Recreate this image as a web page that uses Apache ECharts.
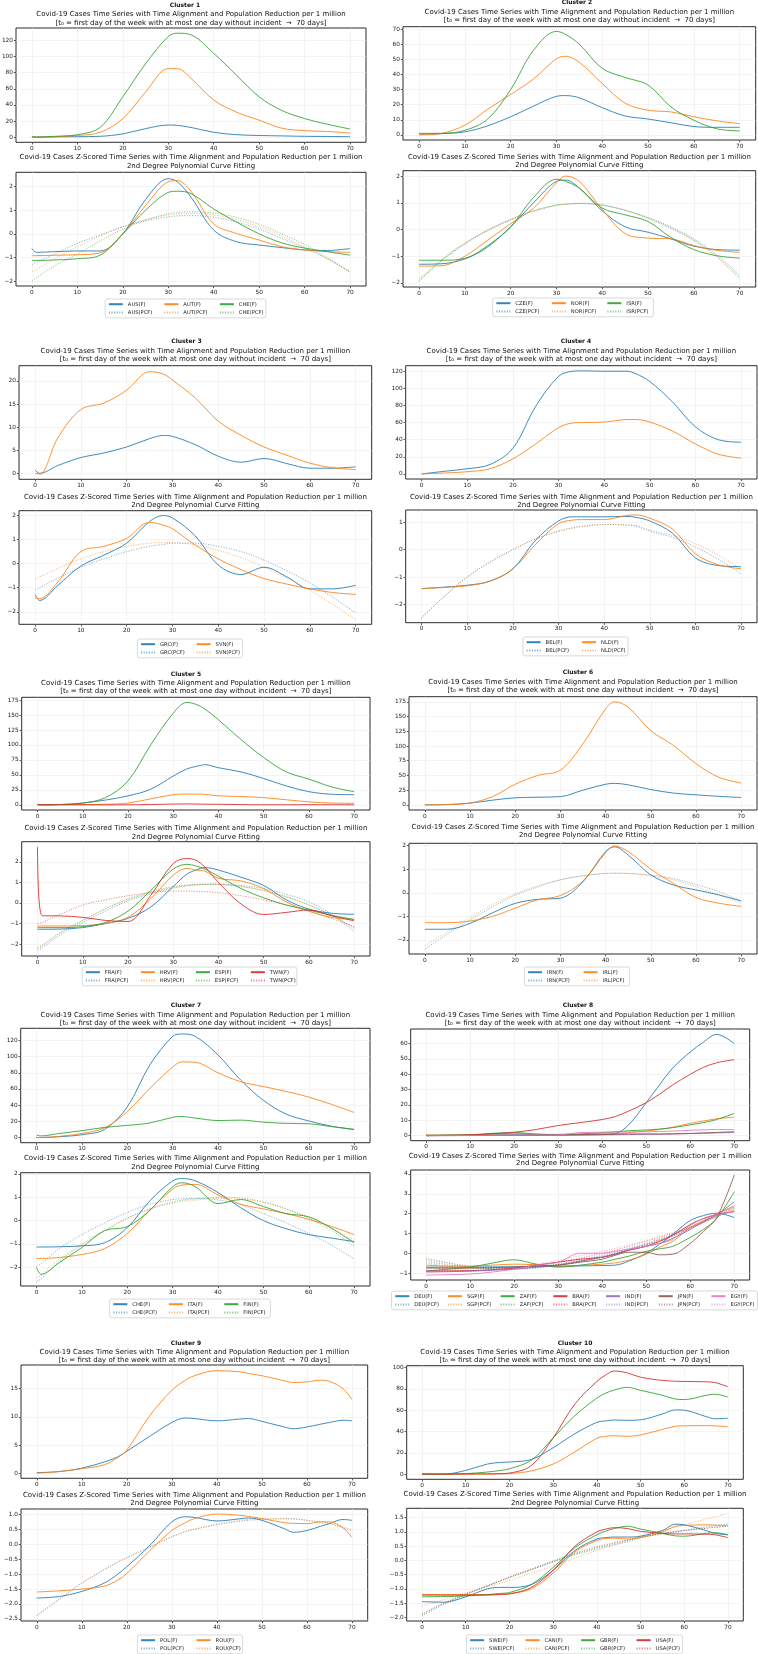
<!DOCTYPE html>
<html><head><meta charset="utf-8">
<script src="https://cdn.jsdelivr.net/npm/echarts@6/dist/echarts.min.js"></script>
<style>
html,body{margin:0;padding:0;background:#fff;width:758px;height:1654px;overflow:hidden}
.c{position:absolute;left:0;top:0;width:758px;height:1654px}
</style>
</head><body>
<script>
// ---------- shared ticks ----------
const X_TICKS = [0,10,20,30,40,50,60,70];
const TAB10 = ['#1f77b4','#ff7f0e','#2ca02c','#d62728','#9467bd','#8c564b','#e377c2'];

// ---------- Cluster 1 ----------
const c1Days = [0,1,5,10,15,20,25,30,32,35,40,45,50,55,60,65,70];
const c1Countries = ['AUS','AUT','CHE'];
const c1AUS = [1.0,0.0,0.3,0.5,1.0,4.0,10.5,15.0,14.6,12.0,6.0,3.0,2.0,1.5,1.0,0.8,0.5];
const c1AUT = [0,0,0.5,2,6,23,56,85,85,73,46,31,21,11,8,7,5];
const c1CHE = [0,0,1,3,12,50,91,125,129,127,104,77,50,33,23,16,10];
const c1AUSz = [-0.62,-0.78,-0.75,-0.72,-0.72,0.0,1.45,2.33,2.2,1.55,0.16,-0.33,-0.47,-0.58,-0.68,-0.7,-0.62];
const c1AUTz = [-0.92,-0.92,-0.9,-0.88,-0.8,0.0,1.2,2.2,2.25,1.8,0.42,0.02,-0.26,-0.54,-0.68,-0.75,-0.78];
const c1CHEz = [-1.12,-1.12,-1.1,-1.05,-0.9,0.0,1.0,1.75,1.8,1.7,1.05,0.5,0.0,-0.38,-0.6,-0.75,-0.9];
const c1AUSp = [-1.3,-1.2,-0.85,-0.4,-0.05,0.3,0.55,0.72,0.76,0.77,0.7,0.5,0.2,-0.2,-0.6,-1.05,-1.6];
const c1AUTp = [-1.6,-1.5,-1.05,-0.55,-0.1,0.3,0.6,0.8,0.84,0.86,0.8,0.6,0.3,-0.1,-0.55,-1.05,-1.62];
const c1CHEp = [-2.0,-1.85,-1.35,-0.85,-0.3,0.2,0.58,0.85,0.9,0.93,0.88,0.7,0.4,0.0,-0.45,-1.0,-1.62];
const c1TopTicks = [0,20,40,60,80,100,120];
const c1BotTicks = [-2,-1,0,1,2];

// ---------- Cluster 2 ----------
const c2Days = [0,5,10,15,20,25,30,32,35,40,45,50,55,60,65,70];
const c2Countries = ['CZE','NOR','ISR'];
const c2CZE = [0.5,0.8,2,6,12,19,25.5,26,24.5,18,12.5,10.5,8,5.5,5,5];
const c2NOR = [0,1,6.4,17,26.7,37,50.4,52,48,34,21,16.3,15.2,12,9.3,7.5];
const c2ISR = [1,1,3,10.5,30,56,68.5,66.5,60,44,38,33,18.5,9.7,4,2.6];
const c2CZEz = [-1.3,-1.28,-1.1,-0.65,0.1,1.0,1.8,1.85,1.55,0.7,0.1,-0.1,-0.35,-0.62,-0.75,-0.77];
const c2NORz = [-1.37,-1.35,-1.0,-0.4,0.22,0.8,1.75,2.0,1.8,0.75,-0.15,-0.32,-0.35,-0.6,-0.78,-0.85];
const c2ISRz = [-1.15,-1.15,-1.08,-0.6,0.1,1.2,1.88,1.8,1.55,0.8,0.55,0.3,-0.3,-0.75,-0.98,-1.07];
const c2CZEp = [-1.9,-1.15,-0.55,-0.05,0.35,0.68,0.9,0.94,0.97,0.9,0.72,0.45,0.1,-0.35,-0.95,-1.7];
const c2NORp = [-1.85,-1.1,-0.5,-0.02,0.38,0.7,0.92,0.95,0.98,0.92,0.72,0.42,0.05,-0.42,-1.05,-1.85];
const c2ISRp = [-1.95,-1.15,-0.52,-0.02,0.38,0.7,0.92,0.95,0.98,0.92,0.72,0.42,0.05,-0.4,-1.0,-1.8];
const c2TopTicks = [0,10,20,30,40,50,60,70];
const c2BotTicks = [-2,-1,0,1,2];

// ---------- Cluster 3 ----------
const c3Days = [0,1,5,10,15,20,25,28,30,35,40,45,50,55,60,65,70];
const c3Countries = ['GRC','SVN'];
const c3GRC = [0.7,0,1.7,3.4,4.4,5.7,7.5,8.2,8.0,6.2,3.7,2.4,3.2,2.1,1.1,1.1,1.4];
const c3SVN = [0,-0.2,7.7,13.8,15.2,18,22,21.5,20.2,16.3,11.3,8.2,5.7,3.9,2.2,1.2,0.8];
const c3GRCz = [-1.28,-1.53,-0.9,-0.1,0.35,0.85,1.75,2.0,1.9,1.15,-0.06,-0.45,-0.15,-0.55,-1.05,-1.05,-0.9];
const c3SVNz = [-1.42,-1.45,-0.76,0.5,0.72,1.05,1.72,1.6,1.45,0.77,0.2,-0.25,-0.62,-0.85,-1.05,-1.2,-1.28];
const c3GRCp = [-1.1,-1.0,-0.6,-0.15,0.2,0.5,0.72,0.8,0.85,0.85,0.72,0.5,0.15,-0.3,-0.8,-1.4,-2.05];
const c3SVNp = [-0.65,-0.55,-0.2,0.2,0.5,0.72,0.85,0.87,0.87,0.78,0.55,0.25,-0.15,-0.6,-1.1,-1.7,-2.32];
const c3TopTicks = [0,5,10,15,20];
const c3BotTicks = [-2,-1,0,1,2];

// ---------- Cluster 4 ----------
const c4Days = [0,5,10,15,20,25,30,33,35,40,45,47,50,55,60,65,70];
const c4Countries = ['BEL','NLD'];
const c4BEL = [0,3,6,11,30,79,114,120,120.5,120,120,117,108,84,55,40,37];
const c4NLD = [0,1,2.5,6,17.6,35,54,59.5,60,60.6,63.5,63.5,60.6,50,35,23,18.4];
const c4BELz = [-1.42,-1.37,-1.3,-1.15,-0.7,0.35,1.05,1.2,1.2,1.2,1.22,1.18,1.05,0.6,-0.3,-0.58,-0.62];
const c4NLDz = [-1.43,-1.38,-1.32,-1.15,-0.7,0.2,0.95,1.08,1.1,1.1,1.25,1.27,1.15,0.75,-0.15,-0.55,-0.7];
const c4BELp = [-2.48,-1.7,-1.0,-0.45,0.0,0.4,0.68,0.8,0.85,0.92,0.9,0.86,0.68,0.45,0.1,-0.35,-0.88];
const c4NLDp = [-2.48,-1.7,-1.0,-0.45,0.0,0.4,0.66,0.78,0.84,0.92,0.9,0.88,0.72,0.52,0.22,-0.2,-0.7];
const c4TopTicks = [0,20,40,60,80,100,120];
const c4BotTicks = [-2,-1,0,1];

// ---------- Cluster 5 ----------
const c5Days = [0,1,5,10,15,20,25,30,33,35,37,40,45,50,55,60,65,70];
const c5Countries = ['FRA','HRV','ESP','TWN'];
const c5FRA = [0,0,0.5,3,8,15,26,48,60,64,67,62,55,44,31.5,22,17.7,17];
const c5HRV = [1,0.5,0.3,0.5,1,3,10,17,18,18,17.5,15,14,12,8.5,5,3,2.5];
const c5ESP = [0,0,0.5,3,12,40,100,153,171,168,160,142,109,79,55,43,30,22];
const c5TWN = [0.5,0.05,0.05,0.05,0.03,0.02,0.6,1.3,1.5,1.3,1.1,0.9,0.4,0.1,0.15,0.25,0.15,0.05];
const c5FRAz = [-1.28,-1.28,-1.27,-1.2,-1.0,-0.75,-0.2,0.8,1.4,1.6,1.72,1.6,1.25,0.85,0.15,-0.3,-0.5,-0.55];
const c5HRVz = [-1.12,-1.12,-1.12,-1.1,-1.0,-0.7,0.2,1.35,1.68,1.6,1.55,1.2,1.07,0.7,0.05,-0.4,-0.7,-0.8];
const c5ESPz = [-1.2,-1.2,-1.2,-1.15,-0.95,-0.4,0.6,1.65,1.88,1.8,1.65,1.3,0.7,0.25,-0.1,-0.35,-0.6,-0.8];
const c5TWNz = [2.72,-0.62,-0.63,-0.7,-0.85,-0.9,0.36,1.92,2.16,2.08,1.75,1.0,-0.05,-0.56,-0.46,-0.34,-0.62,-0.87];
const c5FRAp = [-2.3,-2.2,-1.55,-0.95,-0.4,0.1,0.45,0.72,0.83,0.88,0.9,0.92,0.85,0.7,0.42,0.05,-0.55,-1.4];
const c5HRVp = [-2.15,-2.05,-1.45,-0.85,-0.3,0.15,0.5,0.75,0.85,0.88,0.9,0.9,0.8,0.6,0.3,-0.1,-0.6,-1.25];
const c5ESPp = [-2.2,-2.1,-1.45,-0.85,-0.28,0.2,0.55,0.8,0.88,0.9,0.92,0.9,0.8,0.6,0.3,-0.1,-0.6,-1.2];
const c5TWNp = [-1.0,-0.95,-0.55,-0.1,0.15,0.35,0.5,0.58,0.58,0.57,0.55,0.5,0.35,0.15,-0.1,-0.4,-0.75,-1.15];
const c5TopTicks = [0,25,50,75,100,125,150,175];
const c5BotTicks = [-2,-1,0,1,2];

// ---------- Cluster 6 ----------
const c6Days = [0,5,10,15,20,25,30,35,40,42,45,50,55,60,65,70];
const c6Countries = ['IRN','IRL'];
const c6IRN = [0,0.5,3,8,12,13,14,25,35,36.5,34,26,20,17,14.5,12.5];
const c6IRL = [0,0.5,3,14,35,50,59,104,163,175,166,126,101,70,47,37];
const c6IRNz = [-1.55,-1.55,-1.3,-0.85,-0.45,-0.28,-0.23,0.47,1.75,1.95,1.6,0.76,0.33,0.12,-0.09,-0.35];
const c6IRLz = [-1.27,-1.27,-1.2,-1.0,-0.65,-0.3,-0.12,0.5,1.7,1.98,1.75,1.0,0.4,-0.2,-0.44,-0.58];
const c6IRNp = [-2.4,-1.75,-1.15,-0.6,-0.1,0.25,0.55,0.72,0.82,0.83,0.82,0.75,0.6,0.35,0.05,-0.35];
const c6IRLp = [-2.25,-1.65,-1.05,-0.5,-0.05,0.3,0.55,0.72,0.82,0.83,0.82,0.72,0.55,0.25,-0.08,-0.45];
const c6TopTicks = [0,25,50,75,100,125,150,175];
const c6BotTicks = [-2,-1,0,1,2];

// ---------- Cluster 7 ----------
const c7Days = [0,1,5,10,15,20,25,30,32,35,40,45,50,55,60,65,70];
const c7Countries = ['CHE','ITA','FIN'];
const c7CHE = [0,0,1,3.5,10,38,90,125,128,125,102,71,46,29,20.5,14,10];
const c7ITA = [0,0,1.5,5,12,32,61,87,93.5,93,80,69,63,57,50,41,31];
const c7FIN = [3,2,5,8.5,12.5,15,18,25,26,24,21,21.5,19,17.5,17,13.5,10];
const c7CHEz = [-1.13,-1.13,-1.12,-1.08,-0.95,-0.3,0.85,1.7,1.8,1.7,1.2,0.55,0.0,-0.35,-0.6,-0.75,-0.9];
const c7ITAz = [-1.62,-1.62,-1.58,-1.45,-1.2,-0.55,0.45,1.35,1.52,1.55,1.1,0.7,0.5,0.3,0.05,-0.25,-0.6];
const c7FINz = [-2.0,-2.3,-1.8,-1.15,-0.43,-0.26,0.45,1.45,1.62,1.45,0.73,0.9,0.6,0.3,0.16,-0.33,-0.95];
const c7CHEp = [-1.95,-1.85,-1.2,-0.6,-0.1,0.35,0.7,0.9,0.93,0.95,0.88,0.68,0.3,-0.1,-0.55,-1.05,-1.65];
const c7ITAp = [-2.45,-2.35,-1.65,-1.0,-0.4,0.1,0.5,0.75,0.82,0.88,0.95,0.92,0.78,0.5,0.15,-0.3,-0.85];
const c7FINp = [-2.6,-2.5,-1.75,-1.05,-0.45,0.1,0.5,0.8,0.87,0.93,1.0,0.97,0.8,0.5,0.1,-0.42,-1.1];
const c7TopTicks = [0,20,40,60,80,100,120];
const c7BotTicks = [-2,-1,0,1,2];

// ---------- Cluster 8 ----------
const c8Days = [0,5,10,15,20,25,30,35,40,43,46,50,53,56,60,63,66,70];
const c8Countries = ['DEU','SGP','ZAF','BRA','IND','JPN','EGY'];
const c8DEU = [0.3,0.3,0.3,0.4,0.5,0.6,0.8,0.9,1.0,1.5,7,21.5,33,44,54.5,61,66,60];
const c8SGP = [0.5,0.3,0.5,1,1.5,1,0.8,0.9,1,1.3,2,3,4,5.5,8,9.5,11,12];
const c8ZAF = [0,0.3,0.5,1.5,2,1,0.5,1,2,2.5,3.2,3.7,4.3,5.2,7,8.5,10.5,14.5];
const c8BRA = [0,0.2,0.5,1.2,2.2,4,6.6,8.5,10.5,12.5,16,21.5,27,33,40,44.5,47.5,49.5];
const c8IND = [0,0,0.1,0.1,0.2,0.2,0.3,0.4,0.5,0.6,0.7,0.9,1.0,1.2,1.4,1.6,1.8,2.0];
const c8JPN = [0,0.1,0.2,0.3,0.3,0.3,0.4,0.5,0.7,0.9,1.1,1.1,1.0,1.1,1.4,1.7,2.1,2.6];
const c8EGY = [0,0,0.1,0.2,0.3,0.4,0.5,2.0,2.2,2.3,2.4,2.5,2.7,3.0,3.5,3.8,4.0,4.0];
const c8DEUz = [-0.7,-0.7,-0.7,-0.69,-0.68,-0.67,-0.65,-0.64,-0.62,-0.6,-0.4,0.0,0.45,0.95,1.65,1.9,2.02,1.8];
const c8SGPz = [-0.6,-0.65,-0.65,-0.6,-0.55,-0.58,-0.65,-0.62,-0.55,-0.48,-0.35,-0.05,0.3,0.6,1.3,1.65,2.0,2.35];
const c8ZAFz = [-0.9,-0.8,-0.7,-0.5,-0.33,-0.55,-0.7,-0.6,-0.45,-0.3,-0.15,0.1,0.22,0.35,0.8,1.2,1.75,3.1];
const c8BRAz = [-0.9,-0.89,-0.88,-0.83,-0.75,-0.6,-0.45,-0.3,-0.2,-0.05,0.15,0.35,0.6,0.9,1.45,1.75,1.95,2.1];
const c8INDz = [-0.95,-0.93,-0.9,-0.85,-0.8,-0.7,-0.6,-0.4,-0.2,-0.05,0.15,0.35,0.5,0.75,1.2,1.6,1.95,2.6];
const c8JPNz = [-0.75,-0.75,-0.75,-0.73,-0.7,-0.65,-0.6,-0.45,-0.3,-0.1,0.05,0.05,-0.08,-0.05,0.5,1.1,1.8,3.95];
const c8EGYz = [-1.1,-1.08,-1.05,-0.95,-0.8,-0.6,-0.45,0.0,0.0,0.1,0.2,0.35,0.5,0.7,1.4,1.75,1.95,2.1];
const c8DEUp = [-0.3,-0.5,-0.68,-0.78,-0.8,-0.75,-0.6,-0.42,-0.2,-0.02,0.2,0.45,0.68,0.92,1.3,1.6,1.95,2.4];
const c8SGPp = [-0.25,-0.47,-0.65,-0.73,-0.75,-0.7,-0.6,-0.42,-0.2,-0.02,0.2,0.45,0.68,0.92,1.3,1.6,1.95,2.45];
const c8ZAFp = [-0.5,-0.65,-0.75,-0.78,-0.75,-0.68,-0.55,-0.38,-0.15,0.0,0.2,0.45,0.65,0.88,1.25,1.55,1.85,2.25];
const c8BRAp = [-0.85,-0.9,-0.9,-0.85,-0.75,-0.62,-0.45,-0.25,0.0,0.15,0.35,0.6,0.8,1.0,1.3,1.55,1.85,2.2];
const c8INDp = [-0.7,-0.8,-0.85,-0.85,-0.8,-0.7,-0.55,-0.35,-0.1,0.05,0.25,0.5,0.72,0.95,1.3,1.6,1.9,2.3];
const c8JPNp = [-0.4,-0.58,-0.7,-0.75,-0.75,-0.7,-0.6,-0.42,-0.2,-0.02,0.17,0.4,0.62,0.85,1.25,1.55,1.9,2.3];
const c8EGYp = [-0.9,-0.92,-0.9,-0.82,-0.7,-0.55,-0.35,-0.12,0.1,0.25,0.42,0.65,0.85,1.05,1.35,1.6,1.85,2.15];
const c8TopTicks = [0,10,20,30,40,50,60];
const c8BotTicks = [-1,0,1,2,3,4];

// ---------- Cluster 9 ----------
const c9Days = [0,5,10,15,18,20,25,30,33,35,40,45,47,50,55,57,60,63,65,68,70];
const c9Countries = ['POL','ROU'];
const c9POL = [0.1,0.3,0.9,2.0,2.9,3.9,6.5,9.0,9.8,9.7,9.3,9.6,9.7,9.2,8.2,7.9,8.2,8.7,9.0,9.4,9.3];
const c9ROU = [0,0.3,0.8,1.5,2.8,4.1,10.1,14.7,16.5,17.3,18.2,18.0,17.7,17.3,16.4,16.1,16.2,16.5,16.3,15.0,13.1];
const c9POLz = [-1.8,-1.75,-1.58,-1.3,-1.0,-0.75,-0.06,0.75,0.92,0.9,0.78,0.85,0.88,0.8,0.52,0.4,0.46,0.6,0.69,0.83,0.8];
const c9ROUz = [-1.6,-1.56,-1.5,-1.4,-1.2,-0.98,-0.23,0.46,0.72,0.86,1.01,0.97,0.93,0.86,0.72,0.7,0.69,0.75,0.75,0.55,0.23];
const c9POLp = [-2.4,-1.85,-1.3,-0.85,-0.6,-0.45,-0.1,0.25,0.42,0.5,0.65,0.77,0.8,0.83,0.85,0.85,0.8,0.75,0.7,0.55,0.45];
const c9ROUp = [-2.38,-1.83,-1.3,-0.85,-0.6,-0.45,-0.1,0.25,0.42,0.5,0.68,0.8,0.83,0.86,0.86,0.85,0.8,0.72,0.68,0.58,0.5];
const c9TopTicks = [0,5,10,15];
const c9BotTicks = [-2.5,-2,-1.5,-1,-0.5,0,0.5,1];

// ---------- Cluster 10 ----------
const c10Days = [0,5,10,15,18,20,25,30,35,40,42,44,47,50,55,58,60,65,67,70];
const c10Countries = ['SWE','CAN','GBR','USA'];
const c10SWE = [0,0,3.5,9.5,11,11.4,13.7,24.8,38,48.6,50,50.8,50.5,51,56.5,60.3,60,54,52,52.5];
const c10CAN = [0,0,0,0,0.2,0.5,3,9.5,21,33.7,35.5,36,35.5,36.8,42,45,45.4,45.5,45.3,44.5];
const c10GBR = [0,0,0.5,2,3.5,5,13,34,55,71.4,76,79,81.5,78.7,74,70.5,70,74,75,72.4];
const c10USA = [0,0,0.2,0.3,0.5,1,8,34,66,87,93,96.8,95,91,88,87.2,87,86.7,86,82];
const c10SWEz = [-1.45,-1.47,-1.28,-1.0,-0.95,-0.95,-0.85,-0.35,0.35,0.75,0.8,0.82,0.82,0.85,1.05,1.27,1.25,1.05,0.95,0.9];
const c10CANz = [-1.2,-1.2,-1.2,-1.2,-1.19,-1.17,-1.0,-0.45,0.3,0.7,0.77,0.78,0.75,0.8,1.0,1.2,1.23,1.25,1.24,1.22];
const c10GBRz = [-1.28,-1.27,-1.25,-1.2,-1.16,-1.13,-0.85,-0.25,0.45,0.9,1.03,1.12,1.2,1.1,0.95,0.86,0.85,0.95,0.97,0.9];
const c10USAz = [-1.22,-1.22,-1.22,-1.22,-1.2,-1.18,-0.95,-0.35,0.5,1.0,1.1,1.15,1.12,1.02,0.95,0.93,0.93,0.92,0.9,0.8];
const c10SWEp = [-1.95,-1.55,-1.2,-0.9,-0.72,-0.6,-0.33,-0.05,0.2,0.4,0.48,0.55,0.65,0.8,0.95,1.02,1.05,1.18,1.22,1.28];
const c10CANp = [-1.6,-1.38,-1.15,-0.92,-0.8,-0.7,-0.45,-0.2,0.08,0.35,0.45,0.55,0.7,0.85,1.05,1.17,1.25,1.45,1.53,1.65];
const c10GBRp = [-1.9,-1.52,-1.2,-0.9,-0.72,-0.6,-0.33,-0.05,0.22,0.45,0.52,0.6,0.7,0.8,0.93,1.0,1.05,1.13,1.17,1.2];
const c10USAp = [-1.88,-1.5,-1.18,-0.88,-0.7,-0.58,-0.3,-0.02,0.25,0.48,0.55,0.62,0.72,0.82,0.95,1.01,1.05,1.13,1.16,1.2];
const c10TopTicks = [0,20,40,60,80,100];
const c10BotTicks = [-2,-1.5,-1,-0.5,0,0.5,1,1.5];

// ---------- texts ----------
const TITLE_TOP_1 = 'Covid-19 Cases Time Series with Time Alignment and Population Reduction per 1 million';
const TITLE_TOP_2 = '[t\u2080 = first day of the week with at most one day without incident  \u2192  70 days]';
const TITLE_BOT_1 = 'Covid-19 Cases Z-Scored Time Series with Time Alignment and Population Reduction per 1 million';
const TITLE_BOT_2 = '2nd Degree Polynomial Curve Fitting';

// ---------- cluster assembly (data references) ----------
const CLUSTERS = [
  {n:1, days:c1Days, countries:c1Countries, top:[c1AUS,c1AUT,c1CHE], z:[c1AUSz,c1AUTz,c1CHEz], p:[c1AUSp,c1AUTp,c1CHEp], tt:c1TopTicks, bt:c1BotTicks, bd:0},
  {n:2, days:c2Days, countries:c2Countries, top:[c2CZE,c2NOR,c2ISR], z:[c2CZEz,c2NORz,c2ISRz], p:[c2CZEp,c2NORp,c2ISRp], tt:c2TopTicks, bt:c2BotTicks, bd:0},
  {n:3, days:c3Days, countries:c3Countries, top:[c3GRC,c3SVN], z:[c3GRCz,c3SVNz], p:[c3GRCp,c3SVNp], tt:c3TopTicks, bt:c3BotTicks, bd:0},
  {n:4, days:c4Days, countries:c4Countries, top:[c4BEL,c4NLD], z:[c4BELz,c4NLDz], p:[c4BELp,c4NLDp], tt:c4TopTicks, bt:c4BotTicks, bd:0},
  {n:5, days:c5Days, countries:c5Countries, top:[c5FRA,c5HRV,c5ESP,c5TWN], z:[c5FRAz,c5HRVz,c5ESPz,c5TWNz], p:[c5FRAp,c5HRVp,c5ESPp,c5TWNp], tt:c5TopTicks, bt:c5BotTicks, bd:0},
  {n:6, days:c6Days, countries:c6Countries, top:[c6IRN,c6IRL], z:[c6IRNz,c6IRLz], p:[c6IRNp,c6IRLp], tt:c6TopTicks, bt:c6BotTicks, bd:0},
  {n:7, days:c7Days, countries:c7Countries, top:[c7CHE,c7ITA,c7FIN], z:[c7CHEz,c7ITAz,c7FINz], p:[c7CHEp,c7ITAp,c7FINp], tt:c7TopTicks, bt:c7BotTicks, bd:0},
  {n:8, days:c8Days, countries:c8Countries, top:[c8DEU,c8SGP,c8ZAF,c8BRA,c8IND,c8JPN,c8EGY], z:[c8DEUz,c8SGPz,c8ZAFz,c8BRAz,c8INDz,c8JPNz,c8EGYz], p:[c8DEUp,c8SGPp,c8ZAFp,c8BRAp,c8INDp,c8JPNp,c8EGYp], tt:c8TopTicks, bt:c8BotTicks, bd:0},
  {n:9, days:c9Days, countries:c9Countries, top:[c9POL,c9ROU], z:[c9POLz,c9ROUz], p:[c9POLp,c9ROUp], tt:c9TopTicks, bt:c9BotTicks, bd:1},
  {n:10, days:c10Days, countries:c10Countries, top:[c10SWE,c10CAN,c10GBR,c10USA], z:[c10SWEz,c10CANz,c10GBRz,c10USAz], p:[c10SWEp,c10CANp,c10GBRp,c10USAp], tt:c10TopTicks, bt:c10BotTicks, bd:1}
];

// ---------- layout (page pixels) ----------
const LAYOUT = [
  {tg:[16,28,366,142.3], bg:[16,172.3,366,286], yt:[-6.45,135.5], yb:[-2.2,2.6], cx:185, ty:[5,14.5,23,156.7,165.7], lx:185.5, ly:299, pitch:55.5},
  {tg:[403,26.7,755.7,140], bg:[403,170.7,755.7,287], yt:[-3.4,71.6], yb:[-2.15,2.2], cx:577, ty:[2.8,11.7,20,156.7,165.2], lx:573, ly:298, pitch:55.5},
  {tg:[19,365.7,371.7,479.3], bg:[19,510.7,371.7,624.3], yt:[-1.3,23.3], yb:[-2.52,2.2], cx:186.5, ty:[341,350.7,359,496.7,505], lx:190, ly:639, pitch:55.5},
  {tg:[405.7,365.7,757,479], bg:[405.7,510,757,622.7], yt:[-6,126.5], yb:[-2.67,1.45], cx:576, ty:[341,350.7,359,496.7,505], lx:575.5, ly:637, pitch:55.5},
  {tg:[21.7,697.3,370,810], bg:[21.7,841.7,370,956], yt:[-8.6,179.6], yb:[-2.58,2.98], cx:186, ty:[674,683.3,691.3,828.3,836.7], lx:189.5, ly:967, pitch:55},
  {tg:[409,696.7,757,810], bg:[409,843.3,757,954], yt:[-8.75,183.75], yb:[-2.6,2.1], cx:578, ty:[672.3,681.7,690,827.3,835.3], lx:577, ly:967, pitch:55.5},
  {tg:[20.7,1028.3,370,1142.7], bg:[20.7,1172.7,370,1286], yt:[-6.4,135], yb:[-2.8,2.05], cx:186, ty:[1005,1015,1023.3,1158.3,1166.7], lx:190, ly:1299, pitch:55.5},
  {tg:[410.7,1029,749.7,1140.7], bg:[410.7,1170,749.7,1280], yt:[-3.3,69.5], yb:[-1.35,4.2], cx:578, ty:[1005.7,1015,1023.3,1155.7,1163.3], lx:574.5, ly:1291, pitch:52.7},
  {tg:[21,1365,367.7,1478.3], bg:[21,1509,367.7,1621], yt:[-0.9,19.2], yb:[-2.57,1.18], cx:186, ty:[1343.3,1352.3,1360.3,1495,1503.3], lx:190, ly:1635, pitch:55.5},
  {tg:[406.7,1365.7,743.3,1479.3], bg:[406.7,1508.3,743.3,1621], yt:[-4.85,101.8], yb:[-2.13,1.83], cx:575, ty:[1343.3,1352.3,1360.3,1494.3,1502.7], lx:574.5, ly:1635, pitch:55.5}
];

const FONT = '"DejaVu Sans", sans-serif';
const TICK_FS = 5.8, TITLE_FS = 7.0, LEG_FS = 5.2;

function fmt(d){ return v => (d ? Number(v).toFixed(d) : String(Math.round(v))).replace('-', '\u2212'); }

function gridOf(g){
  return {left:g[0], top:g[1], width:g[2]-g[0], height:g[3]-g[1], show:true,
    borderColor:'#2b2b2b', borderWidth:1, backgroundColor:'rgba(0,0,0,0)', containLabel:false, outerBoundsMode:'none'};
}
function xAxisOf(i){
  return {type:'value', gridIndex:i, min:-3.5, max:73.5, position:'bottom',
    axisLine:{show:false, onZero:false},
    axisTick:{show:true, length:2.2, lineStyle:{color:'#333', width:0.8}, customValues:X_TICKS},
    axisLabel:{show:true, customValues:X_TICKS, fontSize:TICK_FS, fontFamily:FONT, color:'#222', margin:3, formatter:fmt(0)},
    splitLine:{show:true, lineStyle:{color:'#ececec', width:0.6}}};
}
function yAxisOf(i, range, ticks, d){
  return {type:'value', gridIndex:i, min:range[0], max:range[1], position:'left',
    axisLine:{show:false, onZero:false},
    axisTick:{show:true, length:2.2, lineStyle:{color:'#333', width:0.8}, customValues:ticks},
    axisLabel:{show:true, customValues:ticks, fontSize:TICK_FS, fontFamily:FONT, color:'#222', margin:3, formatter:fmt(d)},
    splitLine:{show:true, lineStyle:{color:'#ececec', width:0.6}}};
}
function textEl(x, y, text, size, weight){
  return {type:'text', x:x, y:y, silent:true, z:10,
    style:{text:text, fontSize:size, fontFamily:'DejaVu Sans', fontWeight:weight||'normal', fill:'#111', align:'center', verticalAlign:'middle'}};
}

CLUSTERS.forEach((cl, k) => {
  const L = LAYOUT[k];
  const el = document.createElement('div'); el.className = 'c'; document.body.appendChild(el);
  const chart = echarts.init(el, null, {renderer:'canvas', width:758, height:1654});
  const N = cl.countries.length;
  const series = [];
  const pairs = arr => cl.days.map((d, j) => [d, arr[j]]);
  cl.countries.forEach((c, i) => {
    const col = TAB10[i];
    series.push({type:'line', name:c, xAxisIndex:0, yAxisIndex:0, data:pairs(cl.top[i]), symbol:'none', smooth:0.35,
      lineStyle:{color:col, width:0.95, opacity:0.9}, itemStyle:{color:col}, silent:true, z:3});
    series.push({type:'line', name:c+'(F)', xAxisIndex:1, yAxisIndex:1, data:pairs(cl.z[i]), symbol:'none', smooth:0.35,
      lineStyle:{color:col, width:0.95, opacity:0.9}, itemStyle:{color:col}, silent:true, z:3});
  });
  cl.countries.forEach((c, i) => {
    const col = TAB10[i];
    series.push({type:'line', name:c+'(PCF)', xAxisIndex:1, yAxisIndex:1, data:pairs(cl.p[i]), symbol:'none', smooth:0.35,
      lineStyle:{color:col, width:0.95, type:[1.1,1.5], opacity:0.6}, itemStyle:{color:col}, silent:true, z:2});
  });

  // legend: one vertical legend per column, framed by a rect
  const padL = 2.7, padR = 3, padT = 2, rowH = 6.4, rowGap = 2, txtW = 25;
  const W = padL + (N-1)*L.pitch + 14 + 5 + txtW + padR;
  const H = padT*2 + rowH*2 + rowGap;
  const lx0 = L.lx - W/2;
  const legends = cl.countries.map((c, i) => ({
    show:true, orient:'vertical', left:lx0 + padL + i*L.pitch, top:L.ly + padT, padding:0,
    itemGap:rowGap, itemWidth:14, itemHeight:6, selectedMode:false,
    itemStyle:{opacity:0, borderWidth:0},
    data:[c+'(F)', c+'(PCF)'],
    textStyle:{fontSize:LEG_FS, fontFamily:'DejaVu Sans', color:'#222', lineHeight:rowH}
  }));

  const gcx = (L.tg[0]+L.tg[2])/2;
  const graphic = [
    textEl(L.cx, L.ty[0], 'Cluster ' + cl.n, 6, 'bold'),
    textEl(gcx, L.ty[1], TITLE_TOP_1, TITLE_FS),
    textEl(gcx, L.ty[2], TITLE_TOP_2, TITLE_FS),
    textEl(gcx, L.ty[3], TITLE_BOT_1, TITLE_FS),
    textEl(gcx, L.ty[4], TITLE_BOT_2, TITLE_FS),
    {type:'rect', silent:true, z:0, shape:{x:lx0, y:L.ly, width:W, height:H, r:2},
      style:{fill:'rgba(255,255,255,0.85)', stroke:'#cfcfcf', lineWidth:0.8}}
  ];

  chart.setOption({
    animation:false,
    backgroundColor:'rgba(0,0,0,0)',
    grid:[gridOf(L.tg), gridOf(L.bg)],
    xAxis:[xAxisOf(0), xAxisOf(1)],
    yAxis:[yAxisOf(0, L.yt, cl.tt, 0), yAxisOf(1, L.yb, cl.bt, cl.bd)],
    legend:legends,
    graphic:graphic,
    series:series
  });
});
</script>
</body></html>
